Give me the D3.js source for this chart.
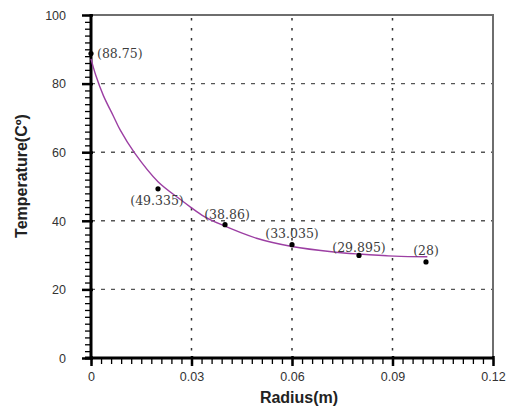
<html>
<head>
  <script src="https://cdn.jsdelivr.net/npm/d3@7/dist/d3.min.js"></script>
  <style>
    body { margin: 0; background: #fff; }
  </style>
</head>
<body>
  <svg id="chart" width="512" height="407"></svg>

  <script type="text/javascript">

  // measured points
  const radius = [0, 0.02, 0.04, 0.06, 0.08, 0.1]
  const temperature = [88.75, 49.335, 38.86, 33.035, 29.895, 28]
  const pointLabels = ["(88.75)", "(49.335)", "(38.86)", "(33.035)", "(29.895)", "(28)"]

  // fitted trend curve
  const fitRadius = [0, 0.0014, 0.0037, 0.0067, 0.0087, 0.013, 0.02, 0.0267, 0.0297, 0.0337, 0.0386, 0.0494, 0.06, 0.0725, 0.08, 0.0906, 0.1004]
  const fitTemp = [87.2, 82.5, 76.5, 70.5, 66.5, 59.8, 51.4, 46.2, 44.0, 41.3, 39.0, 34.9, 32.5, 30.9, 30.3, 29.7, 29.5]

  const xTicks = [0, 0.03, 0.06, 0.09, 0.12]
  const yTicks = [0, 20, 40, 60, 80, 100]
  const xTickLabels = ["0", "0.03", "0.06", "0.09", "0.12"]

  // where each label sits relative to its point
  const labelPlace = [
    {dx: 6, dy: 4, anchor: "start"},
    {dx: -1, dy: 16, anchor: "middle"},
    {dx: 2, dy: -6, anchor: "middle"},
    {dx: 0, dy: -7, anchor: "middle"},
    {dx: 0, dy: -3, anchor: "middle"},
    {dx: 0, dy: -7, anchor: "middle"}
  ]

  const pLeft = 91, pRight = 493, pTop = 15, pBottom = 358

  let svg = d3.select("#chart")

  let x = d3.scaleLinear().domain([0, 0.12]).range([pLeft, pRight])
  let y = d3.scaleLinear().domain([0, 100]).range([pBottom, pTop])

  // grid
  svg.append("g")
     .selectAll("line")
     .data(yTicks.filter(function(d){return d > 0 && d < 100}))
     .enter()
     .append("line")
     .attr("x1", pLeft).attr("x2", pRight)
     .attr("y1", function(d){return y(d)}).attr("y2", function(d){return y(d)})
     .attr("stroke", "#555")
     .attr("stroke-width", 1.4)
     .attr("stroke-dasharray", "4,6")

  svg.append("g")
     .selectAll("line")
     .data(xTicks.filter(function(d){return d > 0 && d < 0.12}))
     .enter()
     .append("line")
     .attr("x1", function(d){return x(d)}).attr("x2", function(d){return x(d)})
     .attr("y1", pTop + 3).attr("y2", pBottom)
     .attr("stroke", "#333")
     .attr("stroke-width", 1.5)
     .attr("stroke-dasharray", "2.5,7.5")

  // frame top / right
  svg.append("path")
     .attr("d", "M" + pLeft + "," + pTop + "H" + pRight + "V" + pBottom)
     .attr("fill", "none")
     .attr("stroke", "#6e6e6e")
     .attr("stroke-width", 2)

  // minor ticks
  let xMinor = d3.range(0, 121).map(function(i){return i / 1000}).filter(function(d, i){return i % 3 == 0})
  let yMinor = d3.range(0, 101, 2)

  svg.append("g")
     .attr("transform", "translate(0," + pBottom + ")")
     .call(d3.axisBottom(x).tickValues(xMinor).tickSize(6).tickFormat(""))
     .call(function(g){g.select(".domain").remove(); g.selectAll("text").remove()})
     .selectAll("line").attr("stroke", "#000").attr("stroke-width", 1.3)

  svg.append("g")
     .attr("transform", "translate(" + pLeft + ",0)")
     .call(d3.axisLeft(y).tickValues(yMinor).tickSize(6).tickFormat(""))
     .call(function(g){g.select(".domain").remove(); g.selectAll("text").remove()})
     .selectAll("line").attr("stroke", "#000").attr("stroke-width", 1.3)

  // major ticks + labels
  let xAxis = svg.append("g")
     .attr("transform", "translate(0," + pBottom + ")")
     .call(d3.axisBottom(x).tickValues(xTicks).tickSize(8)
       .tickFormat(function(d, i){return xTickLabels[i]}))
  xAxis.select(".domain").remove()
  xAxis.selectAll("line").attr("stroke", "#000").attr("stroke-width", 2.5).attr("y1", -2)
  xAxis.selectAll("text")
     .attr("y", 23).attr("dy", null)
     .attr("fill", "#333")
     .style("font-family", "'Liberation Sans', Arial, sans-serif")
     .style("font-size", "12.5px")

  let yAxis = svg.append("g")
     .attr("transform", "translate(" + pLeft + ",0)")
     .call(d3.axisLeft(y).tickValues(yTicks).tickSize(9))
  yAxis.select(".domain").remove()
  yAxis.selectAll("line").attr("stroke", "#000").attr("stroke-width", 2.5).attr("x1", 2)
  yAxis.selectAll("text")
     .attr("x", -25).attr("dy", "0.35em")
     .attr("text-anchor", "end")
     .attr("fill", "#333")
     .style("font-family", "'Liberation Sans', Arial, sans-serif")
     .style("font-size", "12.5px")

  // axis lines
  svg.append("line")
     .attr("x1", pLeft).attr("x2", pLeft).attr("y1", pTop - 1).attr("y2", pBottom + 1)
     .attr("stroke", "#000").attr("stroke-width", 3)
  svg.append("line")
     .attr("x1", pLeft - 6).attr("x2", pRight + 1).attr("y1", pBottom).attr("y2", pBottom)
     .attr("stroke", "#000").attr("stroke-width", 3)

  // fitted curve
  let fit = fitRadius.map(function(r, i){return [r, fitTemp[i]]})
  let line = d3.line()
     .x(function(d){return x(d[0])})
     .y(function(d){return y(d[1])})
     .curve(d3.curveCatmullRom)

  svg.append("path")
     .datum(fit)
     .attr("d", line)
     .attr("fill", "none")
     .attr("stroke", "#9c3fa3")
     .attr("stroke-width", 1.4)

  // points
  let pts = radius.map(function(r, i){return {r: r, t: temperature[i], label: pointLabels[i], p: labelPlace[i]}})

  svg.append("g")
     .selectAll("circle")
     .data(pts)
     .enter()
     .append("circle")
     .attr("cx", function(d){return x(d.r)})
     .attr("cy", function(d){return y(d.t)})
     .attr("r", 2.6)
     .attr("fill", "#000")

  svg.append("g")
     .selectAll("text")
     .data(pts)
     .enter()
     .append("text")
     .attr("x", function(d){return x(d.r) + d.p.dx})
     .attr("y", function(d){return y(d.t) + d.p.dy})
     .attr("text-anchor", function(d){return d.p.anchor})
     .attr("fill", "#3c3c3c")
     .style("font-family", "'DejaVu Serif', serif")
     .style("font-size", "12.5px")
     .text(function(d){return d.label})

  // titles
  svg.append("text")
     .attr("x", 299).attr("y", 403)
     .attr("text-anchor", "middle")
     .attr("fill", "#222")
     .style("font-family", "'Liberation Sans', Arial, sans-serif")
     .style("font-weight", "bold")
     .style("font-size", "16px")
     .text("Radius(m)")

  svg.append("text")
     .attr("transform", "translate(27,176) rotate(-90)")
     .attr("text-anchor", "middle")
     .attr("fill", "#222")
     .style("font-family", "'Liberation Sans', Arial, sans-serif")
     .style("font-weight", "bold")
     .style("font-size", "16px")
     .text("Temperature(Cº)")

  </script>
</body>
</html>
